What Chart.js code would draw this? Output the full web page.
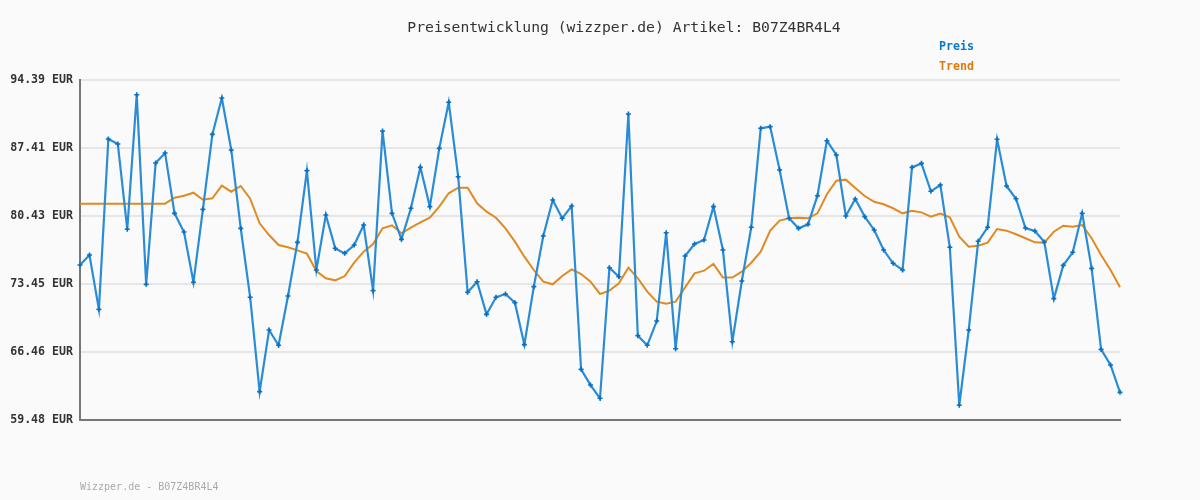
<!DOCTYPE html>
<html>
<head>
<meta charset="utf-8">
<script src="https://cdn.jsdelivr.net/npm/chart.js@4"></script>
<style>
  body { margin: 0; background: #fafafa; }
  canvas { display: block; }
</style>
</head>
<body>
<canvas id="myChart" width="1200" height="500"></canvas>
<script>
// Preis und Trend
var preis = [
  75.39, 76.42, 70.84, 88.33, 87.82, 79.06, 92.88, 73.41, 85.87, 86.89,
  80.70, 78.78, 73.62, 81.11, 88.81, 92.54, 87.20, 79.16, 72.08, 62.39,
  68.72, 67.15, 72.21, 77.72, 85.08, 74.88, 80.53, 77.10, 76.59, 77.45,
  79.50, 72.76, 89.15, 80.70, 78.03, 81.22, 85.42, 81.39, 87.37, 92.10,
  84.46, 72.59, 73.68, 70.33, 72.08, 72.42, 71.53, 67.22, 73.17, 78.37,
  82.07, 80.19, 81.45, 64.68, 63.07, 61.71, 75.12, 74.19, 90.90, 68.14,
  67.15, 69.64, 78.71, 66.80, 76.32, 77.55, 77.96, 81.39, 76.93, 67.52,
  73.75, 79.27, 89.43, 89.60, 85.15, 80.19, 79.16, 79.57, 82.51, 88.16,
  86.69, 80.43, 82.17, 80.36, 78.99, 76.93, 75.57, 74.88, 85.42, 85.83,
  82.96, 83.61, 77.21, 60.99, 68.72, 77.83, 79.27, 88.30, 83.51, 82.20,
  79.19, 78.89, 77.76, 71.94, 75.36, 76.70, 80.70, 75.05, 66.73, 65.13,
  62.32
];
var trend = [
  81.69, 81.69, 81.69, 81.69, 81.69, 81.69, 81.69, 81.69, 81.69, 81.69,
  82.30, 82.51, 82.82, 82.10, 82.24, 83.54, 82.92, 83.51, 82.20, 79.67,
  78.47, 77.45, 77.21, 76.90, 76.56, 74.78, 74.03, 73.82, 74.26, 75.63,
  76.76, 77.55, 79.16, 79.47, 78.65, 79.23, 79.77, 80.25, 81.39, 82.76,
  83.33, 83.33, 81.73, 80.87, 80.25, 79.16, 77.79, 76.25, 74.88, 73.68,
  73.41, 74.26, 74.95, 74.47, 73.68, 72.42, 72.76, 73.51, 75.12, 74.03,
  72.66, 71.63, 71.42, 71.63, 73.10, 74.54, 74.81, 75.50, 74.10, 74.10,
  74.71, 75.63, 76.76, 78.92, 79.95, 80.19, 80.25, 80.19, 80.70, 82.66,
  84.05, 84.16, 83.30, 82.48, 81.89, 81.63, 81.22, 80.70, 80.97, 80.80,
  80.36, 80.67, 80.30, 78.31, 77.28, 77.38, 77.69, 79.09, 78.92, 78.55,
  78.14, 77.72, 77.69, 78.82, 79.43, 79.33, 79.50, 78.14, 76.42, 74.88,
  73.10
];
var tickLabels = ["59.48", "66.46", "73.45", "80.43", "87.41", "94.39"];
var labels = preis.map((v, i) => i + 1);

var titleText = "Preisentwicklung (wizzper.de) Artikel: B07Z4BR4L4";
var footerText = "Wizzper.de - B07Z4BR4L4";

const textPlugin = {
  id: "texts",
  afterDraw(chart) {
    const ctx = chart.ctx;
    ctx.save();
    ctx.textBaseline = "middle";
    ctx.font = "14.7px 'DejaVu Sans Mono'";
    ctx.fillStyle = "#333";
    ctx.textAlign = "center";
    ctx.fillText(titleText, 624, 28);
    ctx.textAlign = "left";
    ctx.font = "bold 11.6px 'DejaVu Sans Mono'";
    ctx.fillStyle = "#0a78c8";
    ctx.fillText("Preis", 939, 47);
    ctx.fillStyle = "#dd7a0a";
    ctx.fillText("Trend", 939, 67);
    ctx.font = "10px 'DejaVu Sans Mono'";
    ctx.fillStyle = "#aaa";
    ctx.fillText(footerText, 80, 487);
    ctx.restore();
  }
};

new Chart("myChart", {
  type: "line",
  data: {
    labels: labels,
    datasets: [{
      label: "Trend",
      data: trend,
      borderColor: "#e08a22",
      borderWidth: 2,
      pointRadius: 0,
      tension: 0,
      order: 2
    }, {
      label: "Preis",
      data: preis,
      borderColor: "#2a8cd6",
      borderWidth: 2.2,
      pointStyle: "cross",
      pointRadius: 2.5,
      pointBorderWidth: 1.6,
      pointBorderColor: "#0b70c0",
      tension: 0,
      order: 1
    }]
  },
  options: {
    responsive: false,
    animation: false,
    layout: { padding: { left: 0, right: 80, top: 80, bottom: 80 } },
    plugins: {
      legend: { display: false },
      title: { display: false },
      tooltip: { enabled: false }
    },
    scales: {
      x: {
        offset: false,
        ticks: { display: false },
        grid: { display: false },
        border: { display: true, color: "#777", width: 2 },
        afterFit: (s) => { s.height = 0; }
      },
      y: {
        min: 59.48,
        max: 94.39,
        afterBuildTicks: (s) => {
          s.ticks = tickLabels.map(t => ({ value: parseFloat(t) }));
        },
        afterFit: (s) => { s.width = 80; },
        ticks: {
          padding: 7,
          color: "#333",
          font: { family: "'DejaVu Sans Mono'", size: 11.6, weight: "bold" },
          callback: (v, i) => tickLabels[i] + " EUR"
        },
        grid: { color: "#e6e6e6", lineWidth: 2, drawTicks: false },
        border: { display: true, color: "#777", width: 2 }
      }
    }
  },
  plugins: [textPlugin]
});
</script>
</body>
</html>
